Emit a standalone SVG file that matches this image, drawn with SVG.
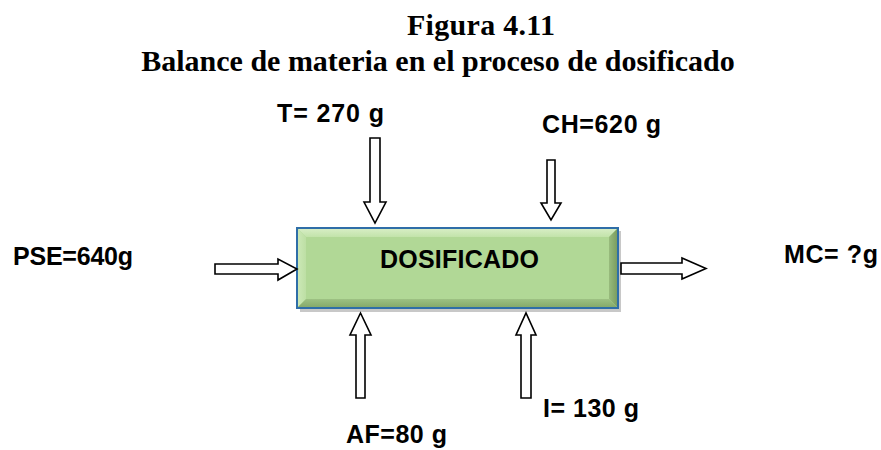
<svg xmlns="http://www.w3.org/2000/svg" width="881" height="450" viewBox="0 0 881 450">
<style>
.title{font-family:"Liberation Serif","Times New Roman",serif;font-weight:bold;font-size:30px;fill:#000}
.lbl{font-family:"Liberation Sans",Arial,sans-serif;font-weight:bold;font-size:25px;fill:#000}
.arr{fill:#fff;stroke:#000;stroke-width:1.6;stroke-linejoin:miter}
</style>
<defs>
<linearGradient id="bt" x1="0" y1="0" x2="0" y2="1"><stop offset="0" stop-color="#d6edc4"/><stop offset="1" stop-color="#c2e3aa"/></linearGradient>
<linearGradient id="bb" x1="0" y1="0" x2="0" y2="1"><stop offset="0" stop-color="#9dc183"/><stop offset="1" stop-color="#86aa6b"/></linearGradient>
<linearGradient id="bl" x1="0" y1="0" x2="1" y2="0"><stop offset="0" stop-color="#cbe8b6"/><stop offset="1" stop-color="#bddfa4"/></linearGradient>
<linearGradient id="br" x1="0" y1="0" x2="1" y2="0"><stop offset="0" stop-color="#98bb7d"/><stop offset="1" stop-color="#7b9d60"/></linearGradient>
</defs>
<rect width="881" height="450" fill="#fff"/>
<g id="title">
<text class="title" x="407" y="35" textLength="148">Figura 4.11</text>
<text class="title" x="438" y="71" text-anchor="middle">Balance de materia en el proceso de dosificado</text>
</g>
<g id="dosificado">
<rect x="300" y="231" width="321" height="81" fill="#c8c8c8"/>
<rect x="297" y="228" width="321" height="80" fill="#b1d896"/>
<polygon points="298,229 617,229 609,237 306,237" fill="url(#bt)"/>
<polygon points="298,229 306,237 306,299 298,307" fill="url(#bl)"/>
<polygon points="617,229 617,307 609,299 609,237" fill="url(#br)"/>
<polygon points="298,307 306,299 609,299 617,307" fill="url(#bb)"/>
<rect x="297" y="228" width="321" height="80" fill="none" stroke="#2f6ea8" stroke-width="2"/>
<text class="lbl" x="380" y="268" textLength="159">DOSIFICADO</text>
</g>
<g id="connectors">
<polygon class="arr" points="370,138 380,138 380,202 386,202 375,223 364,202 370,202"/>
<polygon class="arr" points="547,160 555,160 555,203 561,203 551,220 541,203 547,203"/>
<polygon class="arr" points="215,264 278,264 278,259 297,269 278,280 278,274 215,274"/>
<polygon class="arr" points="621,263 682,263 682,258 706,268.5 682,279 682,274 621,274"/>
<polygon class="arr" points="356,398 365,398 365,335 371,335 360.5,313 350,335 356,335"/>
<polygon class="arr" points="521,398 531,398 531,335 536,335 526,313 516,335 521,335"/>
</g>
<g id="T"><text class="lbl" x="277" y="122" textLength="107">T= 270 g</text></g>
<g id="CH"><text class="lbl" x="542" y="133" textLength="119">CH=620 g</text></g>
<g id="PSE"><text class="lbl" x="13" y="265" textLength="120">PSE=640g</text></g>
<g id="MC"><text class="lbl" x="784" y="263" textLength="94">MC= ?g</text></g>
<g id="I"><text class="lbl" x="543" y="417" textLength="96">I= 130 g</text></g>
<g id="AF"><text class="lbl" x="346" y="443" textLength="101">AF=80 g</text></g>
</svg>
